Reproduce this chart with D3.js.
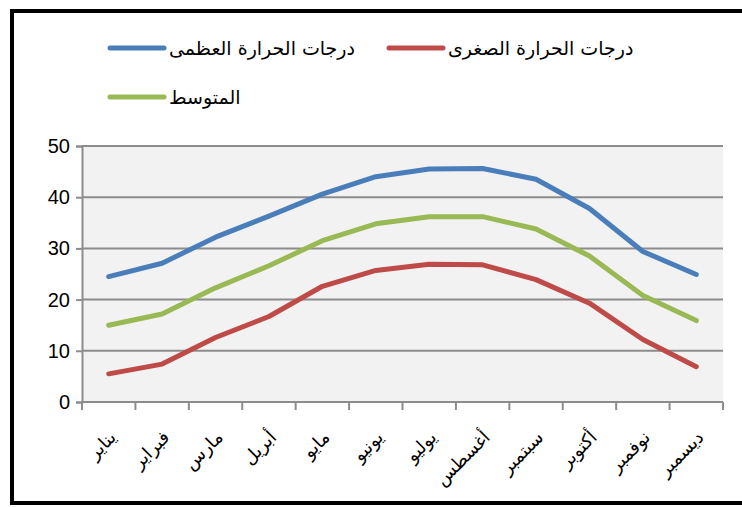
<!DOCTYPE html>
<html><head><meta charset="utf-8">
<script src="https://cdn.jsdelivr.net/npm/d3@7"></script>
<style>body{margin:0;background:#fff}svg{display:block}</style>
</head><body>
<script>
const months = ["يناير","فبراير","مارس","أبريل","مايو","يونيو","يوليو","أغسطس","سبتمبر","أكتوبر","نوفمبر","ديسمبر"];
const maxTemp = [24.5,27.1,32.2,36.3,40.6,44.0,45.5,45.6,43.5,37.8,29.4,24.9];
const minTemp = [5.5,7.4,12.6,16.7,22.6,25.7,26.9,26.8,23.9,19.3,12.2,6.9];
const avgTemp = [15.0,17.2,22.3,26.6,31.5,34.8,36.2,36.2,33.8,28.5,20.8,15.9];
const seriesNames = ["درجات الحرارة العظمى","درجات الحرارة الصغرى","المتوسط"];
const yTicks = [0,10,20,30,40,50];

const W=742,H=507;
const svg=d3.select("body").append("svg").attr("width",W).attr("height",H);
svg.append("rect").attr("width",W).attr("height",H).attr("fill","#fff");
// outer border
svg.append("rect").attr("x",12).attr("y",11).attr("width",W).attr("height",492)
  .attr("fill","none").attr("stroke","#000").attr("stroke-width",4);

const L=82,R=723,T=146,B=402;
const x=d3.scaleBand().domain(months).range([L,R]);
const y=d3.scaleLinear().domain([0,50]).range([B,T]);

svg.append("rect").attr("x",L).attr("y",T).attr("width",R-L).attr("height",B-T).attr("fill","#f2f2f2");

// gridlines
svg.append("g").selectAll("line").data(yTicks.filter(d=>d>0)).join("line")
  .attr("x1",L).attr("x2",R).attr("y1",d=>y(d)).attr("y2",d=>y(d))
  .attr("stroke","#8c8c8c").attr("stroke-width",2);

// y axis
const ya=svg.append("g").attr("transform",`translate(${L},0)`)
  .call(d3.axisLeft(y).tickValues(yTicks).tickSize(6).tickPadding(6));
ya.select(".domain").attr("stroke","#8c8c8c").attr("stroke-width",2);
ya.selectAll(".tick line").attr("stroke","#8c8c8c").attr("stroke-width",2);
ya.selectAll("text").attr("font-family","Liberation Sans, Arial, sans-serif").attr("font-size",20).attr("fill","#000");

// x axis
const xa=svg.append("g").attr("transform",`translate(0,${B})`);
xa.append("line").attr("x1",L).attr("x2",R).attr("stroke","#8c8c8c").attr("stroke-width",2);
const bounds=months.map(m=>x(m)).concat([R]);
xa.selectAll("line.tk").data(bounds).join("line").attr("class","tk")
  .attr("x1",d=>d).attr("x2",d=>d).attr("y1",0).attr("y2",8)
  .attr("stroke","#8c8c8c").attr("stroke-width",2);
xa.selectAll("text").data(months).join("text")
  .attr("transform",d=>`translate(${x(d)+x.bandwidth()/2+4},${32}) rotate(-45)`)
  .attr("text-anchor","end").attr("dy","0.35em")
  .attr("font-family","DejaVu Sans, sans-serif").attr("font-size",18).attr("fill","#000")
  .text(d=>d);

const series=[
  {name:seriesNames[1],vals:minTemp,color:"#be4b48"},
  {name:seriesNames[2],vals:avgTemp,color:"#98b954"},
  {name:seriesNames[0],vals:maxTemp,color:"#4a7ebb"}
];
const line=d3.line().x((d,i)=>x(months[i])+x.bandwidth()/2).y(d=>y(d));
svg.append("g").selectAll("path").data(series).join("path")
  .attr("d",d=>line(d.vals)).attr("fill","none").attr("stroke",d=>d.color)
  .attr("stroke-width",5).attr("stroke-linecap","round").attr("stroke-linejoin","round");

// legend
const leg=[
  {name:seriesNames[0],color:"#4a7ebb",x:110,y:48},
  {name:seriesNames[1],color:"#be4b48",x:389,y:48},
  {name:seriesNames[2],color:"#98b954",x:110,y:97}
];
const lg=svg.append("g").selectAll("g").data(leg).join("g").attr("transform",d=>`translate(${d.x},${d.y})`);
lg.append("line").attr("x1",0).attr("x2",54).attr("stroke",d=>d.color).attr("stroke-width",5).attr("stroke-linecap","round");
lg.append("text").attr("x",59).attr("dy","0.35em").attr("font-family","DejaVu Sans, sans-serif")
  .attr("font-size",19).attr("fill","#000").text(d=>d.name);
</script>
</body></html>
